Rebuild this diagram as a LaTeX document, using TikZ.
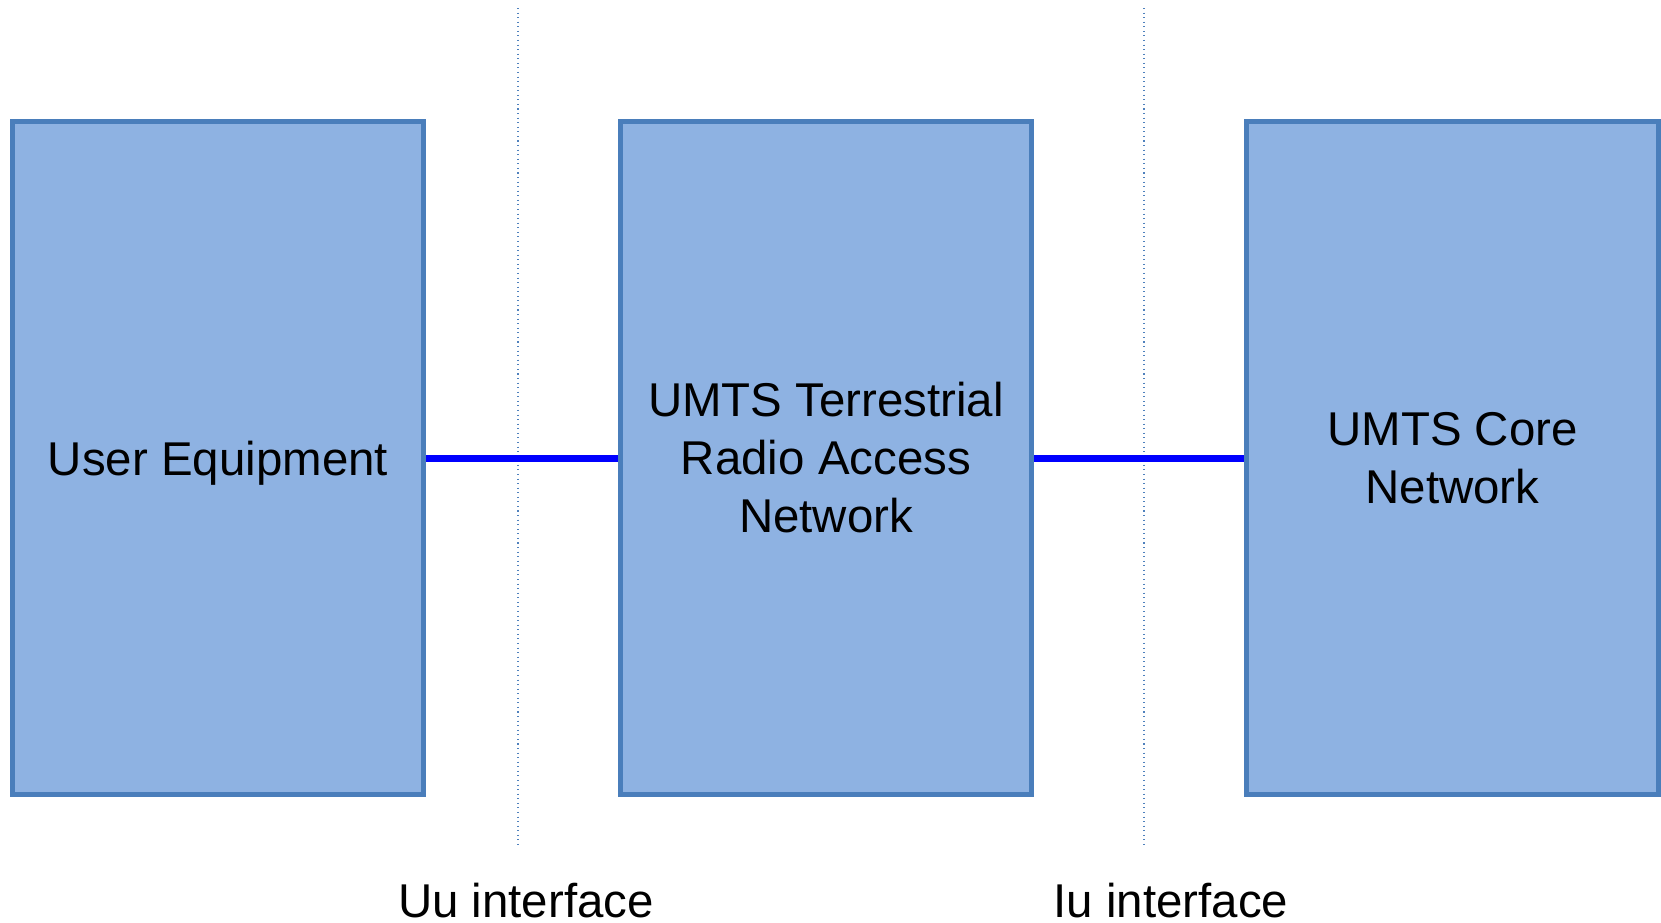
\documentclass[tikz,border=0pt]{standalone}
\usepackage{fontspec}
\setmainfont{Liberation Sans}
\usetikzlibrary{shadows}

\definecolor{boxfill}{RGB}{142,178,226}
\definecolor{boxline}{RGB}{74,126,187}
\definecolor{sepline}{RGB}{79,129,189}

\tikzset{
  block/.style={draw=boxline, fill=boxfill, line width=0.1cm,
    minimum width=8.24cm, minimum height=13.46cm, inner sep=0pt,
    align=center, font=\fontsize{27}{33}\selectfont,
    drop shadow={shadow xshift=0.04cm, shadow yshift=-0.06cm, opacity=0.18, fill=black}},
  link/.style={blue, line width=0.14cm},
  sep/.style={sepline, dotted, line width=0.6pt},
  iflabel/.style={font=\fontsize{27}{33}\selectfont, inner sep=0pt, anchor=base}
}

\begin{document}
\begin{tikzpicture}[x=0.02cm, y=-0.02cm]
\useasboundingbox (0,0) rectangle (1661,923);

%interfaces
\coordinate (uutop) at (518,8);
\coordinate (uubot) at (518,848);
\coordinate (iutop) at (1144,8);
\coordinate (iubot) at (1144,848);
\draw[sep] (uutop) -- (uubot);
\draw[sep] (iutop) -- (iubot);

%blocks
\node[block, text depth=0pt] (ue) at (218,458) {User Equipment};
\node[block] (utran) at (826,458) {UMTS Terrestrial\\Radio Access\\Network};
\node[block] (cn) at (1452.5,458) {UMTS Core\\Network};

%links
\draw[link] (ue.east) -- (utran.west);
\draw[link] (utran.east) -- (cn.west);

%labels
\node[iflabel] (uu) at (526,917) {Uu interface};
\node[iflabel] (iu) at (1171,917) {Iu interface};
\end{tikzpicture}
\end{document}
